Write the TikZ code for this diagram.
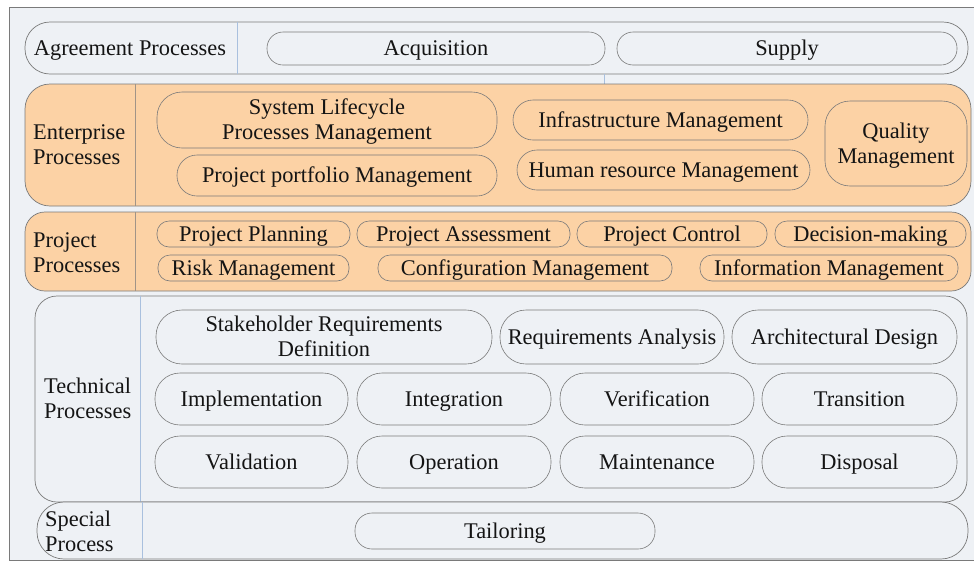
\documentclass[tikz,border=0pt]{standalone}
\usepackage{fontspec}
\setmainfont{Liberation Serif}
\definecolor{bgc}{HTML}{EEF1F5}
\definecolor{peach}{HTML}{FCD2A5}
\definecolor{divblue}{HTML}{A9C0DE}
\definecolor{linec}{HTML}{7A7A7A}
\definecolor{txt}{HTML}{141414}
\newcommand\st{\rule[-5.5pt]{0pt}{25pt}}
\begin{document}
\begin{tikzpicture}[x=1pt,y=-1pt,
  lbl/.style={font=\fontsize{22.4}{25}\selectfont, text=txt, align=center, inner sep=0pt},
  llbl/.style={lbl, align=left, anchor=west},
  pill/.style={lbl, draw=linec, line width=0.6pt, rounded corners=#1},
  pill/.default=13pt,
  bandbox/.style={draw=linec, line width=0.7pt},
  divider/.style={draw=divblue, line width=0.6pt},
  pdivider/.style={draw=linec!70!peach, line width=0.6pt}
]
\useasboundingbox (0,0) rectangle (974,563);
% outer frame
\fill[white] (0,0) rectangle (974,563);
\draw[fill=bgc, draw=linec, line width=0.8pt] (9,7) rectangle (980,560);

% ---------- Agreement band
\draw[bandbox, fill=bgc, rounded corners=25pt] (25,22) rectangle (968,74);
\draw[divider] (237,22) -- (237,74);
\draw[divider] (604,74) -- (604,84);
\node[lbl] (agr) at (130,48) {\st Agreement Processes};
\node[pill=16pt, minimum width=338pt, minimum height=33pt] (acq) at (436,48.5) {\st Acquisition};
\node[pill=16pt, minimum width=340pt, minimum height=33pt] (sup) at (787,48.5) {\st Supply};

% ---------- Enterprise band
\draw[bandbox, fill=peach, rounded corners=25pt] (25,84) rectangle (971,206);
\draw[pdivider] (135,84) -- (135,206);
\node[llbl] (ent) at (33,145) {\st Enterprise\\\st Processes};
\node[pill=25pt, minimum width=340pt, minimum height=56pt] (slm) at (327,120) {\st System Lifecycle\\\st Processes Management};
\node[pill=20pt, minimum width=320pt, minimum height=41pt] (ppm) at (337,175.5) {\st Project portfolio Management};
\node[pill=20pt, minimum width=295pt, minimum height=40pt] (inf) at (660.5,120) {\st Infrastructure Management};
\node[pill=20pt, minimum width=293pt, minimum height=40pt] (hrm) at (663.5,170) {\st Human resource Management};
\node[pill=25pt, minimum width=142pt, minimum height=85pt] (qm) at (896,143.5) {\st Quality\\\st Management};

% ---------- Project band
\draw[bandbox, fill=peach, rounded corners=20pt] (25,212) rectangle (971,291);
\draw[pdivider] (135,212) -- (135,291);
\node[llbl] (prj) at (33,252.5) {\st Project\\\st Processes};
\node[pill=12pt, minimum width=193pt, minimum height=26pt] (pp) at (253.5,234) {\st Project Planning};
\node[pill=12pt, minimum width=213pt, minimum height=26pt] (pa) at (463.5,234) {\st Project Assessment};
\node[pill=12pt, minimum width=190pt, minimum height=26pt] (pc) at (672,234) {\st Project Control};
\node[pill=12pt, minimum width=191pt, minimum height=26pt] (dm) at (870.5,234) {\st Decision-making};
\node[pill=12pt, minimum width=191pt, minimum height=26pt] (rm) at (253.5,268) {\st Risk Management};
\node[pill=12pt, minimum width=294pt, minimum height=26pt] (cm) at (525,268) {\st Configuration Management};
\node[pill=12pt, minimum width=258pt, minimum height=26pt] (im) at (829,268) {\st Information Management};

% ---------- Technical band
\draw[bandbox, fill=bgc, rounded corners=22pt] (35,296) rectangle (967,502);
\draw[divider] (140,296) -- (140,502);
\node[llbl] (tec) at (44,398.5) {\st Technical\\\st Processes};
\node[pill=26pt, minimum width=336pt, minimum height=54pt] (srd) at (324,337) {\st Stakeholder Requirements\\\st Definition};
\node[pill=26pt, minimum width=224pt, minimum height=54pt] (ra) at (612,337) {\st Requirements Analysis};
\node[pill=26pt, minimum width=225pt, minimum height=54pt] (ad) at (844.5,337) {\st Architectural Design};
\node[pill=25pt, minimum width=193pt, minimum height=52pt] (impl) at (251.5,399) {\st Implementation};
\node[pill=25pt, minimum width=194pt, minimum height=52pt] (integ) at (454,399) {\st Integration};
\node[pill=25pt, minimum width=194pt, minimum height=52pt] (verif) at (657,399) {\st Verification};
\node[pill=25pt, minimum width=195pt, minimum height=52pt] (trans) at (859.5,399) {\st Transition};
\node[pill=25pt, minimum width=193pt, minimum height=52pt] (valid) at (251.5,462) {\st Validation};
\node[pill=25pt, minimum width=194pt, minimum height=52pt] (oper) at (454,462) {\st Operation};
\node[pill=25pt, minimum width=194pt, minimum height=52pt] (maint) at (657,462) {\st Maintenance};
\node[pill=25pt, minimum width=195pt, minimum height=52pt] (disp) at (859.5,462) {\st Disposal};

% ---------- Special band
\draw[bandbox, fill=bgc, rounded corners=27pt] (37,502) rectangle (968,559);
\draw[divider] (142,502) -- (142,559);
\node[llbl] (spe) at (45,531.5) {\st Special\\\st Process};
\node[pill=17pt, minimum width=300pt, minimum height=36pt] (tail) at (505,531) {\st Tailoring};
\end{tikzpicture}
\end{document}
